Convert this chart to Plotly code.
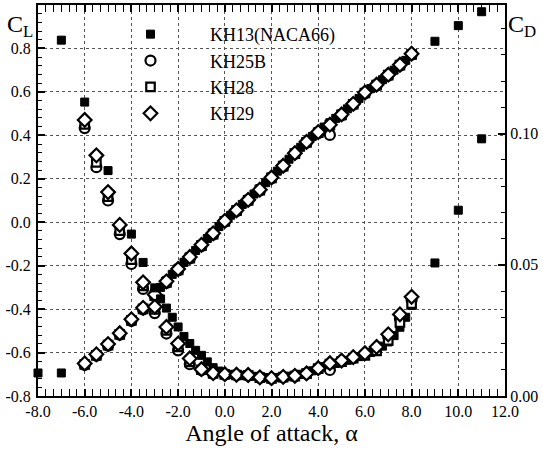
import plotly.graph_objects as go

# ---------------- data ----------------
alpha_kh13 = [-8, -7, -6, -5, -4, -3.5,
              -3, -2.75, -2.5, -2.25, -2, -1.75, -1.5, -1.25, -1, -0.75, -0.5, -0.25,
              0, 0.25, 0.5, 0.75, 1, 1.25, 1.5, 1.75, 2, 2.25, 2.5, 2.75, 3, 3.25, 3.5, 3.75,
              4, 4.25, 4.5, 4.75, 5, 5.25, 5.5, 5.75, 6, 6.25, 6.5, 6.75, 7, 7.25, 7.5, 7.75, 8,
              9, 10, 11]
cl_kh13 = [-0.694, -0.694, -0.655, -0.567, -0.452, -0.399,
           -0.325, -0.300, -0.268, -0.240, -0.212, -0.185, -0.158, -0.130, -0.102, -0.075, -0.048, -0.020,
           0.008, 0.032, 0.058, 0.082, 0.106, 0.130, 0.155, 0.182, 0.208, 0.235, 0.262, 0.290, 0.318, 0.345, 0.372, 0.395,
           0.418, 0.438, 0.458, 0.478, 0.498, 0.522, 0.546, 0.570, 0.595, 0.615, 0.635, 0.656, 0.678, 0.700, 0.722, 0.745, 0.770,
           0.833, 0.905, 0.969]
cd_kh13 = [None, 0.1356, 0.1120, 0.0859, 0.0617, 0.0509,
           0.0412, 0.0370, 0.0335, 0.0300, 0.0263, 0.0227, 0.0200, 0.0174, 0.0155, 0.0130, 0.0108, 0.0095,
           0.0086, 0.0082, 0.0080, 0.0078, 0.0077, 0.0075, 0.0072, 0.0070, 0.0069, 0.0070, 0.0072, 0.0075, 0.0079, 0.0083, 0.0088, 0.0096,
           0.0104, 0.0112, 0.0118, 0.0124, 0.0130, 0.0136, 0.0142, 0.0150, 0.0158, 0.0166, 0.0176, 0.0190, 0.0206, 0.0230, 0.0262, 0.0300, 0.0345,
           0.0507, 0.0708, 0.0980]

alpha = [-6, -5.5, -5, -4.5, -4, -3.5, -3, -2.5, -2, -1.5, -1, -0.5, 0, 0.5, 1, 1.5, 2,
         2.5, 3, 3.5, 4, 4.5, 5, 5.5, 6, 6.5, 7, 7.5, 8]

cl_kh25b = [-0.657, -0.615, -0.568, -0.518, -0.454, -0.401, -0.340, -0.279, -0.222, -0.167, -0.110, -0.057,
            0.002, 0.051, 0.099, 0.146, 0.202, 0.256, 0.314, 0.366, 0.410, 0.402, 0.492, 0.541, 0.593,
            0.629, 0.675, 0.721, 0.771]
cl_kh28 = [-0.655, -0.613, -0.566, -0.516, -0.452, -0.399, -0.338, -0.277, -0.220, -0.165, -0.108, -0.055,
           0.004, 0.053, 0.101, 0.148, 0.204, 0.258, 0.316, 0.368, 0.412, 0.447, 0.494, 0.543, 0.595,
           0.631, 0.677, 0.723, 0.773]
cl_kh29 = [-0.650, -0.608, -0.561, -0.511, -0.447, -0.394, -0.333, -0.272, -0.215, -0.160, -0.104, -0.051,
           0.006, 0.055, 0.103, 0.150, 0.206, 0.260, 0.318, 0.370, 0.415, 0.449, 0.496, 0.545, 0.597,
           0.633, 0.679, 0.725, 0.776]

cd_kh25b = [0.1021, 0.0872, 0.0745, 0.0617, 0.0503, 0.0408, 0.0316, 0.0238, 0.0174, 0.0121, 0.0098, 0.0085,
            0.0081, 0.0079, 0.0078, 0.0069, 0.0066, 0.0071, 0.0075, 0.0084, 0.0103, 0.0099, 0.0132, 0.0145,
            0.0160, 0.0180, 0.0225, 0.0295, 0.0366]
cd_kh28 = [0.1035, 0.0890, 0.0760, 0.0630, 0.0520, 0.0420, 0.0330, 0.0250, 0.0187, 0.0130, 0.0100, 0.0086,
           0.0082, 0.0080, 0.0079, 0.0070, 0.0067, 0.0072, 0.0076, 0.0085, 0.0104, 0.0122, 0.0131, 0.0144,
           0.0155, 0.0172, 0.0212, 0.0280, 0.0352]
cd_kh29 = [0.1052, 0.0917, 0.0777, 0.0652, 0.0543, 0.0433, 0.0340, 0.0263, 0.0200, 0.0143, 0.0102, 0.0087,
           0.0083, 0.0081, 0.0080, 0.0071, 0.0068, 0.0073, 0.0077, 0.0086, 0.0106, 0.0125, 0.0135, 0.0148,
           0.0163, 0.0187, 0.0235, 0.0311, 0.0378]

x_ticks = [-8, -6, -4, -2, 0, 2, 4, 6, 8, 10, 12]
x_ticktext = ["-8.0", "-6.0", "-4.0", "-2.0", "0.0", "2.0", "4.0", "6.0", "8.0", "10.0", "12.0"]
cl_ticks = [-0.8, -0.6, -0.4, -0.2, 0.0, 0.2, 0.4, 0.6, 0.8]
cl_ticktext = ["-0.8", "-0.6", "-0.4", "-0.2", "0.0", "0.2", "0.4", "0.6", "0.8"]
cd_ticks = [0.0, 0.05, 0.10]
cd_ticktext = ["0.00", "0.05", "0.10"]

# ---------------- figure ----------------
FONT = "Liberation Serif"
fig = go.Figure()

series = [
    ("KH13(NACA66)", alpha_kh13, cl_kh13, cd_kh13, dict(symbol="square", size=8, color="black", line=dict(color="black", width=1))),
    ("KH25B", alpha, cl_kh25b, cd_kh25b, dict(symbol="circle", size=10, color="white", line=dict(color="black", width=2.2))),
    ("KH28", alpha, cl_kh28, cd_kh28, dict(symbol="square", size=8.5, color="white", line=dict(color="black", width=2.2))),
    ("KH29", alpha, cl_kh29, cd_kh29, dict(symbol="diamond", size=10.5, color="white", line=dict(color="black", width=2.2))),
]

for name, a, cl, cd, mk in series:
    fig.add_trace(go.Scatter(x=a, y=cl, mode="markers", name=name, marker=mk,
                             yaxis="y", cliponaxis=False, showlegend=True))
for name, a, cl, cd, mk in series:
    fig.add_trace(go.Scatter(x=a, y=cd, mode="markers", name=name, marker=mk,
                             yaxis="y2", cliponaxis=True, showlegend=False))

W, H = 543, 452
ML, MR, MT, MB = 38, 38, 3, 56
PW, PH = W - ML - MR, H - MT - MB

def px(X):
    return (X - ML) / PW

def py(Y):
    return (H - MB - Y) / PH

tickfont = dict(family=FONT, size=16, color="black")

fig.update_layout(
    width=W, height=H,
    margin=dict(l=ML, r=MR, t=MT, b=MB),
    paper_bgcolor="white", plot_bgcolor="white",
    font=dict(family=FONT, color="black"),
    xaxis=dict(range=[-8, 12], tickvals=x_ticks, ticktext=x_ticktext,
               showline=True, linecolor="black", linewidth=2, mirror="allticks",
               ticks="inside", ticklen=7, tickwidth=1.5, tickcolor="black",
               minor=dict(dtick=1/3, ticks="inside", ticklen=4, tickwidth=1, tickcolor="black", showgrid=False),
               showgrid=True, gridcolor="#555555", gridwidth=1, griddash="dot",
               zeroline=False, tickfont=tickfont,
               title=dict(text="Angle of attack, α", font=dict(family=FONT, size=24, color="black"), standoff=4)),
    yaxis=dict(range=[-0.8, 1.0], tickvals=cl_ticks, ticktext=cl_ticktext,
               showline=True, linecolor="black", linewidth=2, mirror=False,
               ticks="inside", ticklen=7, tickwidth=1.5, tickcolor="black",
               minor=dict(dtick=0.04, ticks="inside", ticklen=4, tickwidth=1, tickcolor="black", showgrid=False),
               showgrid=True, gridcolor="#555555", gridwidth=1, griddash="dot",
               zeroline=False, tickfont=tickfont, ticklabelstandoff=2),
    yaxis2=dict(range=[0, 0.149], tickvals=cd_ticks, ticktext=cd_ticktext, overlaying="y", side="right",
                showline=True, linecolor="black", linewidth=2,
                ticks="inside", ticklen=7, tickwidth=1.5, tickcolor="black",
                minor=dict(dtick=0.01, ticks="inside", ticklen=4, tickwidth=1, tickcolor="black", showgrid=False),
                showgrid=False, zeroline=False, tickfont=tickfont),
    legend=dict(x=px(91), y=py(14), xanchor="left", yanchor="top",
                bgcolor="rgba(0,0,0,0)", borderwidth=0, itemwidth=109,
                font=dict(family=FONT, size=18, color="black"), tracegroupgap=0),
    annotations=[
        dict(text="C<sub>L</sub>", x=px(5), y=py(24), xref="paper", yref="paper",
             xanchor="left", yanchor="middle", showarrow=False,
             font=dict(family=FONT, size=24, color="black")),
        dict(text="C<sub>D</sub>", x=px(506), y=py(24), xref="paper", yref="paper",
             xanchor="left", yanchor="middle", showarrow=False,
             font=dict(family=FONT, size=24, color="black")),
    ],
)

fig.write_html("out.html")
